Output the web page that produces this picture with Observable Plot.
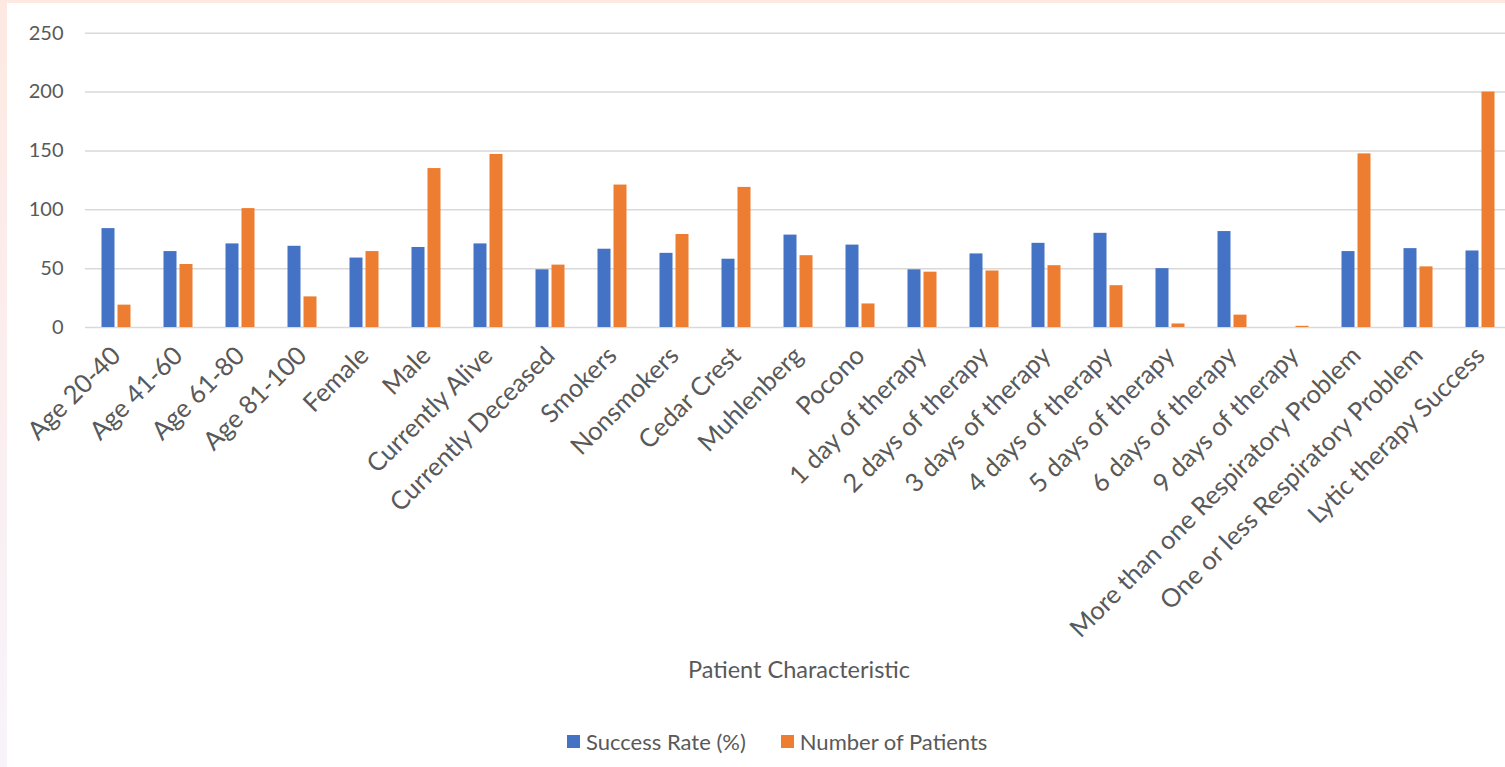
<!DOCTYPE html>
<html>
<head>
<meta charset="utf-8">
<script src="https://cdn.jsdelivr.net/npm/d3@7"></script>
<script src="https://cdn.jsdelivr.net/npm/@observablehq/plot@0.6"></script>
<style>
  html, body { margin: 0; padding: 0; width: 1505px; height: 767px; overflow: hidden; }
  body { background: linear-gradient(to bottom, #fde9e2, #f8f3fb); position: relative; font-family: Lato, "Open Sans", sans-serif; }
  #card { position: absolute; left: 7px; top: 3px; width: 1505px; height: 770px; background: #fff; overflow: visible; }
  #chart { position: absolute; left: 0; top: 0; }
  #xtitle { position: absolute; left: 0; width: 1584px; top: 652px; text-align: center; font-size: 23.5px; color: #595959; }
  #legend { position: absolute; top: 725px; left: 560px; display: flex; align-items: center; font-size: 22px; color: #595959; }
  .sw { display: inline-block; width: 13px; height: 13px; margin-right: 6px; }
  .item { display: flex; align-items: center; margin-right: 35px; }
</style>
</head>
<body>
<div id="card">
  <div id="chart"></div>
  <div id="xtitle">Patient Characteristic</div>
  <div id="legend"></div>
</div>
<script>
const categories = ["Age 20-40","Age 41-60","Age 61-80","Age 81-100","Female","Male","Currently Alive","Currently Deceased","Smokers","Nonsmokers","Cedar Crest","Muhlenberg","Pocono","1 day of therapy","2 days of therapy","3 days of therapy","4 days of therapy","5 days of therapy","6 days of therapy","9 days of therapy","More than one Respiratory Problem","One or less Respiratory Problem","Lytic therapy Success"];
const seriesNames = ["Success Rate (%)", "Number of Patients"];
const successRate = [84, 64.5, 71, 69, 59, 68, 71, 49, 66.5, 63, 58, 78.5, 70, 49, 62.5, 71.5, 80, 50, 81.5, 0, 64.5, 67, 65];
const numberOfPatients = [19, 53.5, 101, 26, 64.5, 135, 147, 53, 121, 79, 119, 61, 20, 47, 48, 52.5, 35.5, 3, 10.5, 1, 147.5, 51.5, 200];
const yTicks = [0, 50, 100, 150, 200, 250];
const seriesColors = ["#4472C4", "#ED7D31"];

const data = categories.flatMap((c, i) => [
  {category: c, series: seriesNames[0], value: successRate[i]},
  {category: c, series: seriesNames[1], value: numberOfPatients[i]}
]);

const chart = Plot.plot({
  width: 1505,
  height: 640,
  marginTop: 29.7,
  marginLeft: 76.5,
  marginRight: 0,
  marginBottom: 316,
  style: {fontFamily: "Lato, 'Open Sans', sans-serif", color: "#595959", background: "transparent", overflow: "visible"},
  fx: {domain: categories, padding: 0, label: null},
  x: {domain: seriesNames, paddingInner: 0.206, paddingOuter: 0.93, axis: null},
  y: {domain: [0, 250], label: null},
  color: {domain: seriesNames, range: seriesColors},
  marks: [
    Plot.ruleY(yTicks, {stroke: "#d9d9d9", strokeWidth: 1.5}),
    Plot.barY(data, {fx: "category", x: "series", y: "value", fill: "series"}),
    Plot.axisY({ticks: yTicks, tickSize: 0, tickPadding: 22, fontSize: 20, label: null, fill: "#595959"}),
    Plot.axisFx({anchor: "bottom", tickRotate: -45, tickSize: 0, tickPadding: 24, fontSize: 25.5, label: null, fill: "#595959"})
  ]
});
document.getElementById("chart").appendChild(chart);

const legend = document.getElementById("legend");
seriesNames.forEach((s, i) => {
  const item = document.createElement("div");
  item.className = "item";
  const sw = document.createElement("span");
  sw.className = "sw";
  sw.style.background = seriesColors[i];
  item.appendChild(sw);
  const t = document.createElement("span");
  t.textContent = s;
  item.appendChild(t);
  legend.appendChild(item);
});
</script>
</body>
</html>
